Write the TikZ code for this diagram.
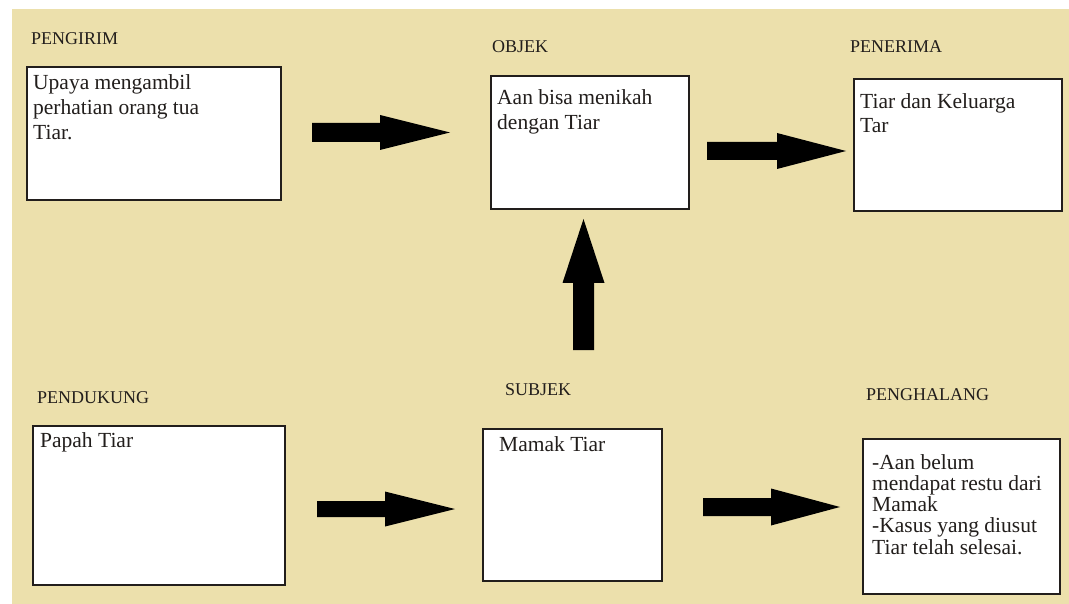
\documentclass[tikz,border=0pt]{standalone}
\usepackage{fontspec}
\setmainfont{Liberation Serif}
\definecolor{paper}{RGB}{236,224,172}
\definecolor{ink}{RGB}{34,30,28}
\tikzset{
  x=1pt, y=-1pt,
  card/.style={draw=ink, line width=1.3pt, fill=white, anchor=north west,
    inner sep=0pt, outer sep=0pt},
  role/.style={anchor=base west, inner sep=0pt, text=ink,
    font=\fontsize{18}{21}\selectfont},
  % multi-line text: the base anchor sits on the last line
  cardtext/.style={anchor=base west, inner sep=0pt, text=ink, align=left,
    font=\fontsize{21.5}{25}\selectfont},
  pics/blockright/.style n args={4}{code={
    \fill[black] (0,-#3) -- (#1,-#3) -- (#1,-#4) -- (#2,0) -- (#1,#4)
      -- (#1,#3) -- (0,#3) -- cycle;}},
  pics/blockup/.style n args={4}{code={
    \fill[black] (-#3,0) -- (-#3,-#1) -- (-#4,-#1) -- (0,-#2) -- (#4,-#1)
      -- (#3,-#1) -- (#3,0) -- cycle;}},
}
\begin{document}
\begin{tikzpicture}
\useasboundingbox (0,0) rectangle (1069,604);
\fill[white] (0,0) rectangle (1069,604);
\fill[paper] (12,9) rectangle (1069,604);

% role headings
\node[role] (hPengirim)   at (31,45)  {PENGIRIM};
\node[role] (hObjek)      at (492,53) {OBJEK};
\node[role] (hPenerima)   at (850,53) {PENERIMA};
\node[role] (hPendukung)  at (37,403) {PENDUKUNG};
\node[role] (hSubjek)     at (505,395) {SUBJEK};
\node[role] (hPenghalang) at (866,400) {PENGHALANG};

% boxes
\node[card, minimum width=254, minimum height=133] (pengirim)   at (27,67)  {};
\node[card, minimum width=198, minimum height=133] (objek)      at (491,76) {};
\node[card, minimum width=208, minimum height=132] (penerima)   at (854,79) {};
\node[card, minimum width=252, minimum height=159] (pendukung)  at (33,426) {};
\node[card, minimum width=179, minimum height=152] (subjek)     at (483,429) {};
\node[card, minimum width=197, minimum height=155] (penghalang) at (863,439) {};
\draw[ink, line width=2.6pt] (subjek.north west) -- (subjek.north east);

% box contents
\node[cardtext] (tPengirim) at (33,140)
  {Upaya mengambil\\perhatian orang tua\\Tiar.};
\node[cardtext] (tObjek) at (497,130) {Aan bisa menikah\\dengan Tiar};
\node[cardtext, font=\fontsize{21.5}{24}\selectfont] (tPenerima) at (860,133)
  {Tiar dan Keluarga\\Tar};
\node[cardtext] (tPendukung) at (40,447) {Papah Tiar};
\node[cardtext] (tSubjek) at (499,451) {Mamak Tiar};
\node[cardtext, font=\fontsize{21.5}{21.2}\selectfont] (tPenghalang) at (872,554)
  {-Aan belum\\mendapat restu dari\\Mamak\\-Kasus yang diusut\\Tiar telah selesai.};

% block arrows between the boxes
\pic at (312,132.5) {blockright={68}{138}{9.5}{17.5}};
\pic at (707,151)   {blockright={70}{139}{9}{18}};
\pic at (317,509)   {blockright={68}{138}{8}{17.5}};
\pic at (703,507)   {blockright={68}{137}{9}{18.5}};
\pic at (583.5,350) {blockup={67}{131}{10.5}{21}};
\end{tikzpicture}
\end{document}
